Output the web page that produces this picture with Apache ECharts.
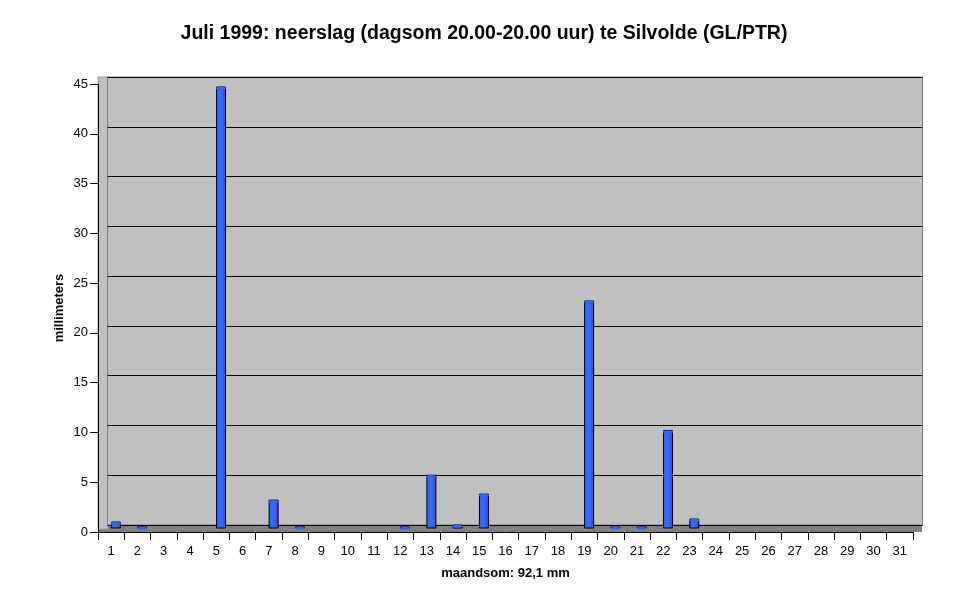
<!DOCTYPE html>
<html><head><meta charset="utf-8">
<script src="https://cdn.jsdelivr.net/npm/echarts@6/dist/echarts.min.js"></script>
<style>html,body{margin:0;padding:0;background:#fff}#c{width:968px;height:604px}</style>
</head><body><div id="c"></div>
<script>
const days = ['1','2','3','4','5','6','7','8','9','10','11','12','13','14','15','16','17','18','19','20','21','22','23','24','25','26','27','28','29','30','31'];
const rain = [0.7,0.2,0,0,44.4,0,2.9,0.2,0,0,0,0.2,5.4,0.4,3.5,0,0,0,22.9,0.2,0.2,9.9,1.0,0,0,0,0,0,0,0,0];
const yTicks = [0,5,10,15,20,25,30,35,40,45];

const barData = rain.map(v => v > 0 ? v : null);
const F = 'Liberation Sans, Arial, sans-serif';
const chart = echarts.init(document.getElementById('c'));
const hidX = (g) => ({type:'category', gridIndex:g, data:days, show:false});
const hidY = (g) => ({type:'value', gridIndex:g, min:0, max:45, interval:5, show:false});
chart.setOption({
  backgroundColor:'#ffffff',
  animation:false,
  title:{text:'Juli 1999: neerslag (dagsom 20.00-20.00 uur) te Silvolde (GL/PTR)', left:'center', top:19,
    textStyle:{fontFamily:F, fontSize:19.5, fontWeight:'bold', color:'#000'}},
  grid:[
    {left:98, top:525, width:824, height:7, show:true, backgroundColor:'#808080', borderWidth:0, z:0},
    {left:98, top:77, width:10, height:452, show:true, backgroundColor:'#c0c0c0', borderColor:'#9a9a9a', borderWidth:1, z:0},
    {left:107.5, top:77, width:815, height:448, show:true, backgroundColor:'#c0c0c0', borderColor:'#808080', borderWidth:1, z:0},
    {left:102.75, top:80.5, width:815, height:448, z:0},
    {left:98, top:84, width:815, height:448, z:0}
  ],
  xAxis:[hidX(0), hidX(1),
    {type:'category', gridIndex:2, data:days, axisLine:{show:false}, axisTick:{show:false}, axisLabel:{show:false}},
    hidX(3),
    {type:'category', gridIndex:4, data:days, boundaryGap:true, z:4,
      name:'maandsom: 92,1 mm', nameLocation:'middle', nameGap:35, nameMoveOverlap:false,
      nameTextStyle:{fontFamily:F, fontSize:13, fontWeight:'bold', color:'#000'},
      axisLine:{show:true, lineStyle:{color:'#000', width:1}},
      axisTick:{show:true, alignWithLabel:false, length:8, lineStyle:{color:'#000'}},
      axisLabel:{fontFamily:F, fontSize:13, color:'#000', margin:13}}
  ],
  yAxis:[hidY(0), hidY(1),
    {type:'value', gridIndex:2, min:0, max:45, interval:5, z:1, axisLine:{show:false}, axisTick:{show:false}, axisLabel:{show:false},
      splitLine:{show:true, lineStyle:{color:'#000', width:1}}},
    hidY(3),
    {type:'value', gridIndex:4, min:0, max:45, interval:5, z:4,
      name:'millimeters', nameLocation:'middle', nameGap:32, nameRotate:90, nameMoveOverlap:false,
      nameTextStyle:{fontFamily:F, fontSize:13, fontWeight:'bold', color:'#000'},
      axisLine:{show:true, lineStyle:{color:'#000', width:1}},
      axisTick:{show:true, length:8, lineStyle:{color:'#000'}},
      axisLabel:{fontFamily:F, fontSize:13, color:'#000', margin:10, formatter:(v)=> yTicks.includes(v) ? String(v) : ''},
      splitLine:{show:false}}
  ],
  series:[
    {type:'bar', xAxisIndex:3, yAxisIndex:3, data:barData, barWidth:10, z:5,
      itemStyle:{color:new echarts.graphic.LinearGradient(0,0,1,0,[
        {offset:0,color:'#3060f0'},{offset:0.4,color:'#3a6cff'},{offset:1,color:'#2850d8'}]),
        borderColor:'#000000', borderWidth:1}},
    {type:'pictorialBar', xAxisIndex:3, yAxisIndex:3, data:barData, symbol:'circle', symbolPosition:'end',
      symbolSize:[10,3], symbolOffset:[0,'0%'], z:6,
      itemStyle:{color:'#3366ff', borderColor:'#000000', borderWidth:1}}
  ]
});
</script></body></html>
